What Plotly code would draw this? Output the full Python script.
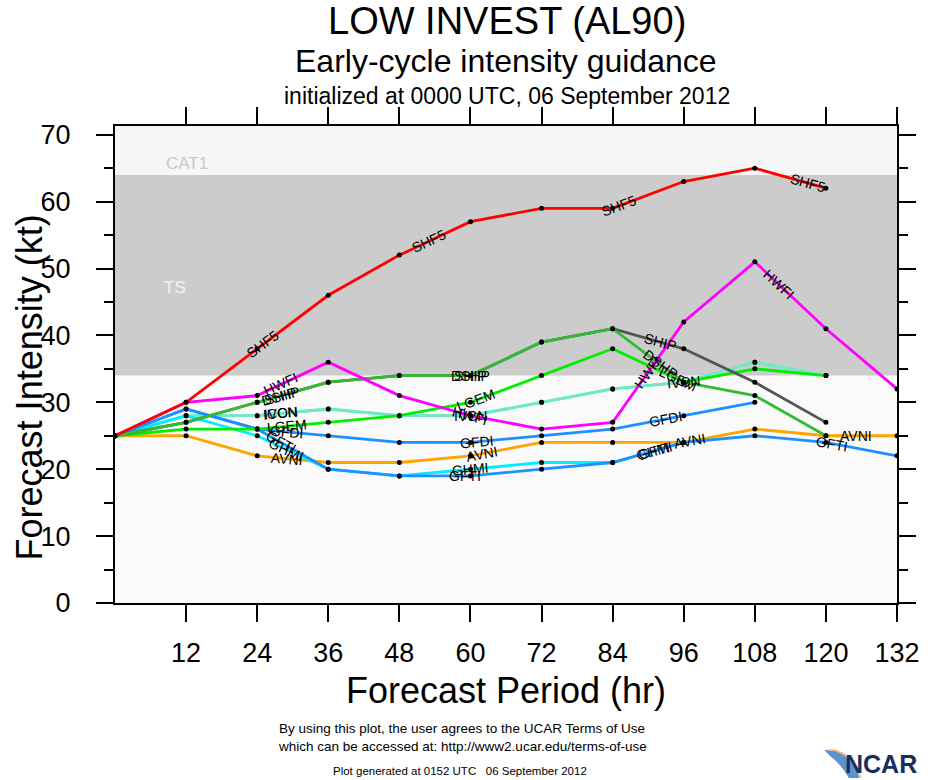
import math
import plotly.graph_objects as go

# ---------------- data ----------------
hours = [0, 12, 24, 36, 48, 60, 72, 84, 96, 108, 120, 132]

SHF5 = [25, 30, 38, 46, 52, 57, 59, 59, 63, 65, 62]
HWFI = [25, 30, 31, 36, 31, 28, 26, 27, 42, 51, 41, 32]
SHIP = [25, 27, 30, 33, 34, 34, 39, 41, 38, 33, 27]
DSHP = [25, 27, 30, 33, 34, 34, 39, 41, 33, 31, 25]
LGEM = [25, 26, 26, 27, 28, 30, 34, 38, 33, 35, 34]
ICON = [25, 28, 28, 29, 28, 28, 30, 32, 33, 36, 34]
IVCN = [25, 28, 28, 29, 28, 28, 30, 32, 33, 36, 34]
GFDI = [25, 29, 26, 25, 24, 24, 25, 26, 28, 30]
GFTI = [25, 29, 26, 20, 19, 19, 20, 21, 24, 25, 24, 22]
GHMI = [25, 28, 25, 20, 19, 20, 21, 21, 24]
AVNI = [25, 25, 22, 21, 21, 22, 24, 24, 24, 26, 25, 25]

x_ticks = [12, 24, 36, 48, 60, 72, 84, 96, 108, 120, 132]
y_ticks = [0, 10, 20, 30, 40, 50, 60, 70]

ts_band = [34, 64]          # tropical storm band (kt)
band_labels = ["CAT1", "TS"]

title = "LOW INVEST (AL90)"
subtitle = "Early-cycle intensity guidance"
init_text = "initialized at 0000 UTC, 06 September 2012"
x_title = "Forecast Period (hr)"
y_title = "Forecast Intensity (kt)"
terms1 = "By using this plot, the user agrees to the UCAR Terms of Use"
terms2 = "which can be accessed at: http://www2.ucar.edu/terms-of-use"
generated = "Plot generated at 0152 UTC   06 September 2012"

# ---------------- styles ----------------
series = [
    # name, values, color, label hours
    ("ICON", ICON, "#70e8c8", [28]),
    ("IVCN", IVCN, "#70e8c8", [28, 60, 96]),
    ("AVNI", AVNI, "#ffa500", [29, 62, 97, 125]),
    ("GHMI", GHMI, "#00eeff", [29, 60, 91]),
    ("GFTI", GFTI, "#1e90ff", [28, 59, 91, 121]),
    ("GFDI", GFDI, "#1e90ff", [29, 61, 93]),
    ("LGEM", LGEM, "#00ee00", [29, 61, 95]),
    ("SHIP", SHIP, "#555555", [28, 60, 92]),
    ("DSHP", DSHP, "#33bb33", [28, 60, 92]),
    ("HWFI", HWFI, "#ff00ff", [28, 60, 90, 112]),
    ("SHF5", SHF5, "#ff0000", [25, 53, 85, 117]),
]

W, H = 932, 780
L, R, T, B = 115, 910, 126, 603
XR = [0, 132]
YR = [0, 71.3]
sx = (R - L) / (XR[1] - XR[0])
sy = (B - T) / (YR[1] - YR[0])
FONT = "Liberation Sans, Arial, Helvetica, sans-serif"


def px(X):
    return (X - L) / (R - L)


def py(Y):
    return (B - Y) / (B - T)


fig = go.Figure()

# background bands
fig.add_shape(type="rect", xref="x", yref="y", x0=XR[0], x1=XR[1],
              y0=ts_band[0], y1=ts_band[1], fillcolor="#cccccc",
              line_width=0, layer="below")
fig.add_shape(type="rect", xref="x", yref="y", x0=XR[0], x1=XR[1],
              y0=ts_band[1], y1=YR[1], fillcolor="#f6f6f6",
              line_width=0, layer="below")

annotations = []

for name, vals, color, lab_hours in series:
    xs = hours[:len(vals)]
    fig.add_trace(go.Scatter(
        x=xs, y=vals, mode="lines+markers", name=name,
        line=dict(color=color, width=2.8),
        marker=dict(color="black", size=5),
        showlegend=False, hoverinfo="x+y+name"))
    for h in lab_hours:
        i = 0
        while i < len(xs) - 2 and h > xs[i + 1]:
            i += 1
        x0, x1 = xs[i], xs[i + 1]
        y0, y1 = vals[i], vals[i + 1]
        f = (h - x0) / (x1 - x0)
        yv = y0 + f * (y1 - y0)
        ang = -math.degrees(math.atan2((y1 - y0) * sy, (x1 - x0) * sx))
        annotations.append(dict(
            x=h, y=yv, xref="x", yref="y", text=name, showarrow=False,
            textangle=ang, font=dict(family=FONT, size=14, color="black"),
            xanchor="center", yanchor="middle"))

# band labels
annotations.append(dict(x=px(165), y=py(152), xref="paper", yref="paper",
                        text=band_labels[0], showarrow=False,
                        font=dict(family=FONT, size=17, color="#c8c8c8")))
annotations.append(dict(x=px(163), y=py(276), xref="paper", yref="paper",
                        text=band_labels[1], showarrow=False,
                        font=dict(family=FONT, size=17, color="#f2f2f2")))


def text_at(X, Y, s, size, color="black", angle=0, weight="normal"):
    annotations.append(dict(x=px(X), y=py(Y), xref="paper", yref="paper",
                            text=s, showarrow=False, textangle=angle,
                            xanchor="center", yanchor="middle",
                            font=dict(family=FONT, size=size, color=color,
                                      weight=weight)))


text_at(514, 21, title, 38)
text_at(512, 61, subtitle, 32)
text_at(514, 96, init_text, 23)
text_at(512, 690, x_title, 36)
text_at(28, 387, y_title, 36, angle=-90)
text_at(468, 728, terms1, 13.5)
text_at(468, 746, terms2, 13.5)
text_at(466, 771, generated, 11.5)
text_at(894, 764, "NCAR", 25, color="#1b2d5e", weight="bold")


def pth(points):
    s = ""
    for k, (X, Y) in enumerate(points):
        s += ("M" if k == 0 else "L") + f"{px(X):.5f},{py(Y):.5f} "
    return s + "Z"


# NCAR swoosh
fig.add_shape(type="path", xref="paper", yref="paper",
              path=pth([(836, 750), (847, 751), (856, 755), (863, 762),
                        (869, 770), (872, 778), (861, 778), (856, 770),
                        (849, 762), (842, 756)]),
              fillcolor="#3f7fc8", line_width=0, opacity=0.85)
fig.add_shape(type="path", xref="paper", yref="paper",
              path=pth([(836, 749), (847, 749.5), (856, 753), (864, 760),
                        (870, 768), (874, 778), (873, 778), (868, 768),
                        (862, 761), (855, 754.5), (846, 751)]),
              fillcolor="#f2a04a", line_width=0, opacity=0.8)

axis_common = dict(showline=True, linewidth=2, linecolor="black",
                   mirror="ticks", ticks="outside", ticklen=17,
                   tickwidth=2, tickcolor="black", showgrid=False,
                   zeroline=False,
                   tickfont=dict(family=FONT, size=27, color="black"))

fig.update_layout(
    width=W, height=H,
    margin=dict(l=L, r=W - R, t=T, b=H - B, pad=0),
    paper_bgcolor="white", plot_bgcolor="#fafafa",
    annotations=annotations,
    xaxis=dict(range=XR, tickvals=x_ticks, ticklabelstandoff=8,
               **axis_common),
    yaxis=dict(range=YR, tickvals=y_ticks, ticklabelstandoff=20,
               minor=dict(ticks="outside", ticklen=9, tickwidth=2,
                          tickcolor="black", dtick=5, tick0=0),
               **axis_common),
    showlegend=False,
)

fig.write_html("out.html",
               config={"displayModeBar": False},
               post_script="document.body.style.margin='0';"
                           "document.body.style.overflow='hidden';")
